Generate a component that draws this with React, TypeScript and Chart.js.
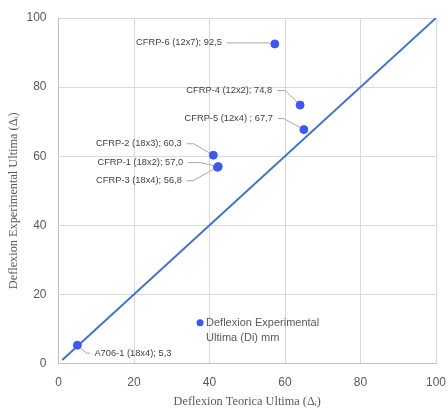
import React, { useEffect, useRef } from "react";
import { Chart, registerables } from "chart.js";

Chart.register(...registerables);

// Specimen names with theoretical (x) and experimental (y) ultimate deflections, mm
const specimens = [
  "CFRP-6 (12x7)",
  "CFRP-4 (12x2)",
  "CFRP-5 (12x4) ",
  "CFRP-2 (18x3)",
  "CFRP-1 (18x2)",
  "CFRP-3 (18x4)",
  "A706-1 (18x4)",
];
const theoretical = [57.3, 64.0, 65.0, 41.0, 42.3, 42.1, 5.0];
const experimental = [92.5, 74.8, 67.7, 60.3, 57.0, 56.8, 5.3];

// Reference line y = x
const refLineX = [1, 100];
const refLineY = [1, 100];

const axisTicks = [0, 20, 40, 60, 80, 100];

const legendText = ["Deflexion Experimental", "Ultima (Di) mm"];
const xTitle = "Deflexion Teorica Ultima (Δᵢ)";
const yTitle = "Deflexion Experimental Ultima (Δᵢ)";

// Label placement relative to each point (text anchor offset and leader run)
const labelLayout = [
  { dx: -53, dy: -1, align: "right", run: 42 },
  { dx: -28, dy: -14.5, align: "right", run: 8 },
  { dx: -31, dy: -11, align: "right", run: 6 },
  { dx: -31.6, dy: -11.4, align: "right", run: 7 },
  { dx: -35, dy: -4, align: "right", run: 12 },
  { dx: -35.6, dy: 13.5, align: "right", run: 6 },
  { dx: 17, dy: 8, align: "left", run: 4 },
];

const fmt = (v: number) => v.toFixed(1).replace(".", ",");

const POINT_COLOR = "#3d57f5";
const LINE_COLOR = "#4472C4";
const TEXT_GRAY = "#595959";
const GRID = "#d9d9d9";
const SERIF = "'Liberation Serif', 'DejaVu Serif', serif";
const SANS = "'Liberation Sans', Arial, sans-serif";

const labelsPlugin = {
  id: "pointLabels",
  afterDatasetsDraw(chart: any) {
    const { ctx } = chart;
    const meta = chart.getDatasetMeta(1);
    ctx.save();
    ctx.font = `9.3px ${SANS}`;
    ctx.textBaseline = "middle";
    meta.data.forEach((pt: any, i: number) => {
      const lay = labelLayout[i];
      const tx = pt.x + lay.dx;
      const ty = pt.y + lay.dy;
      const text = `${specimens[i]}; ${fmt(experimental[i])}`;
      ctx.fillStyle = "#404040";
      ctx.textAlign = lay.align;
      ctx.fillText(text, tx, ty);
      // leader line
      ctx.strokeStyle = "#a6a6a6";
      ctx.lineWidth = 1;
      ctx.beginPath();
      const sx = lay.align === "right" ? tx + 5 : tx - 4;
      const ex = lay.align === "right" ? sx + lay.run : sx - lay.run;
      ctx.moveTo(sx, ty);
      ctx.lineTo(ex, ty);
      const ang = Math.atan2(pt.y - ty, pt.x - ex);
      ctx.lineTo(pt.x - Math.cos(ang) * 4, pt.y - Math.sin(ang) * 4);
      ctx.stroke();
    });

    // legend inside the plot
    const xs = chart.scales.x;
    const ys = chart.scales.y;
    const lx = xs.getPixelForValue(37.5);
    const ly = ys.getPixelForValue(11.8);
    ctx.fillStyle = POINT_COLOR;
    ctx.beginPath();
    ctx.arc(lx, ly, 3.5, 0, Math.PI * 2);
    ctx.fill();
    ctx.font = `11px ${SANS}`;
    ctx.fillStyle = TEXT_GRAY;
    ctx.textAlign = "left";
    ctx.fillText(legendText[0], lx + 6, ly);
    ctx.fillText(legendText[1], lx + 6, ly + 15);

    // axis titles
    const area = chart.chartArea;
    ctx.font = `12.3px ${SERIF}`;
    ctx.fillStyle = TEXT_GRAY;
    ctx.textAlign = "center";
    ctx.fillText(xTitle, (area.left + area.right) / 2, 402);
    ctx.translate(14, (area.top + area.bottom) / 2 + 10);
    ctx.rotate(-Math.PI / 2);
    ctx.fillText(yTitle, 0, 0);
    ctx.restore();
  },
};

export default function App() {
  const canvasRef = useRef<HTMLCanvasElement | null>(null);

  useEffect(() => {
    document.body.style.margin = "0";
    const canvas = canvasRef.current;
    if (!canvas) return;
    const chart = new Chart(canvas, {
      type: "scatter",
      data: {
        datasets: [
          {
            type: "line",
            label: "y = x",
            data: refLineX.map((x, i) => ({ x, y: refLineY[i] })),
            borderColor: LINE_COLOR,
            borderWidth: 2,
            pointRadius: 0,
            fill: false,
            order: 2,
          },
          {
            type: "scatter",
            label: legendText.join(" "),
            data: theoretical.map((x, i) => ({ x, y: experimental[i] })),
            backgroundColor: POINT_COLOR,
            borderColor: POINT_COLOR,
            pointRadius: 4,
            order: 1,
          },
        ],
      },
      options: {
        responsive: false,
        animation: false,
        layout: { padding: { top: 18, right: 12, left: 0, bottom: 0 } },
        plugins: { legend: { display: false }, tooltip: { enabled: false } },
        scales: {
          x: {
            type: "linear",
            min: 0,
            max: 100,
            afterBuildTicks: (s: any) => {
              s.ticks = axisTicks.map((v) => ({ value: v }));
            },
            afterFit: (s: any) => {
              s.height = 45.5;
              s.paddingLeft = 0;
              s.paddingRight = 0;
            },
            grid: { color: GRID, drawTicks: false },
            border: { color: "#bfbfbf" },
            ticks: {
              color: TEXT_GRAY,
              padding: 12,
              font: { family: SANS, size: 12 },
            },
          },
          y: {
            type: "linear",
            min: 0,
            max: 100,
            afterBuildTicks: (s: any) => {
              s.ticks = axisTicks.map((v) => ({ value: v }));
            },
            afterFit: (s: any) => {
              s.width = 58.5;
              s.paddingTop = 0;
              s.paddingBottom = 0;
            },
            grid: { color: GRID, drawTicks: false },
            border: { color: "#bfbfbf" },
            ticks: {
              color: TEXT_GRAY,
              padding: 12,
              font: { family: SANS, size: 12 },
            },
          },
        },
      },
      plugins: [labelsPlugin],
    } as any);
    return () => chart.destroy();
  }, []);

  return (
    <div style={{ width: 448, height: 409, background: "#fff" }}>
      <canvas ref={canvasRef} width={448} height={409} style={{ display: "block" }} />
    </div>
  );
}
